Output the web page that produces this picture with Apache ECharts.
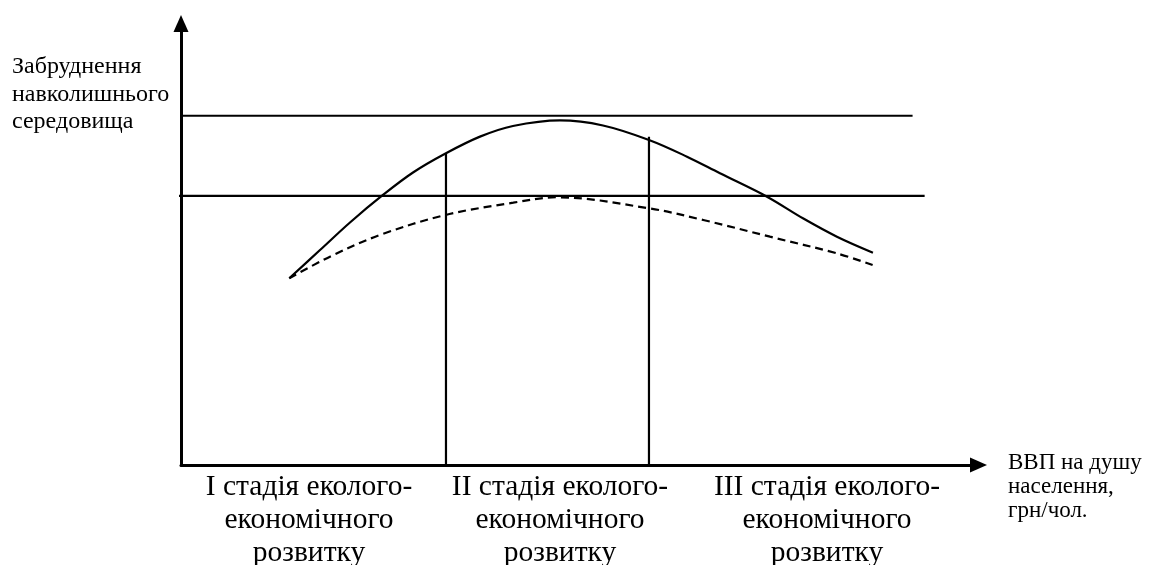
<!DOCTYPE html>
<html>
<head>
<meta charset="utf-8">
<script src="https://cdn.jsdelivr.net/npm/echarts@6/dist/echarts.min.js"></script>
<style>html,body{margin:0;padding:0;background:#fff;}#c{width:1155px;height:565px;}</style>
</head>
<body>
<div id="c"></div>
<script>
// Solid curve (pollution, conceptual units)
const solidCurve = [
  [13.47, 41.49], [17.29, 47.76], [21.02, 53.89], [25.12, 60.00], [28.86, 65.00],
  [32.96, 69.27], [37.19, 72.96], [41.29, 75.33], [47.14, 76.56], [52.49, 75.44],
  [58.21, 72.22], [62.94, 68.51], [67.04, 64.82], [72.89, 59.62], [77.36, 54.82],
  [81.59, 50.73], [86.07, 47.18]
];
// Dashed curve
const dashedCurve = [
  [13.47, 41.49], [18.53, 46.29], [24.75, 51.11], [32.92, 55.56], [41.33, 58.29],
  [46.77, 59.49], [58.21, 57.04], [64.96, 54.44], [73.26, 50.73], [81.55, 47.04], [86.03, 44.44]
];
// Horizontal threshold lines
const upperLine = [[0, 77.6], [91.0, 77.6]];
const lowerLine = [[-0.6, 59.8], [92.5, 59.8]];
// Stage dividers
const divider1 = [[32.96, 0], [32.96, 69.27]];
const divider2 = [[58.21, 0], [58.21, 72.96]];
// Texts
const stageLabels = [
  'I стадія еколого-\nекономічного\nрозвитку',
  'II стадія еколого-\nекономічного\nрозвитку',
  'III стадія еколого-\nекономічного\nрозвитку'
];
const yTitle = 'Забруднення\nнавколишнього\nсередовища';
const xTitle = 'ВВП на душу\nнаселення,\nгрн/чол.';

const FONT = "'Liberation Serif', 'Times New Roman', serif";
const chart = echarts.init(document.getElementById('c'), null, {renderer: 'canvas'});
const lineSeries = (data, opts) => Object.assign({
  type: 'line', data: data, symbol: 'none', silent: true, clip: false, animation: false,
  lineStyle: {color: '#000', width: 2.2}
}, opts);

const stageX = [309, 560, 827];
chart.setOption({
  backgroundColor: '#fff',
  animation: false,
  grid: {left: 181, right: 176.5, top: 23.5, bottom: 100},
  xAxis: {
    type: 'value', min: 0, max: 99.2,
    axisLine: {show: true, onZero: false, symbol: ['none', 'triangle'], symbolSize: [15, 17],
      lineStyle: {color: '#000', width: 3}},
    axisTick: {show: false}, axisLabel: {show: false}, splitLine: {show: false}
  },
  yAxis: {
    type: 'value', min: 0, max: 98.1,
    axisLine: {show: true, onZero: false, symbol: ['none', 'triangle'], symbolSize: [15, 17],
      lineStyle: {color: '#000', width: 3}},
    axisTick: {show: false}, axisLabel: {show: false}, splitLine: {show: false}
  },
  series: [
    lineSeries(upperLine),
    lineSeries(lowerLine),
    lineSeries(divider1),
    lineSeries(divider2),
    lineSeries(solidCurve, {smooth: 0.35, lineStyle: {color: '#000', width: 2.2}}),
    lineSeries(dashedCurve, {smooth: 0.35, lineStyle: {color: '#000', width: 2.2, type: [8, 5]}})
  ],
  graphic: [
    {type: 'text', left: 12, top: 53, style: {text: yTitle, font: '24px ' + FONT, lineHeight: 27.5, fill: '#000'}},
    {type: 'text', left: 1008, top: 451, style: {text: xTitle, font: '23px ' + FONT, lineHeight: 24, fill: '#000'}}
  ].concat(stageLabels.map((t, i) => ({
    type: 'text', x: stageX[i], y: 471,
    style: {text: t, font: '29.5px ' + FONT, lineHeight: 33, fill: '#000', align: 'center', verticalAlign: 'top'}
  })))
});
</script>
</body>
</html>
